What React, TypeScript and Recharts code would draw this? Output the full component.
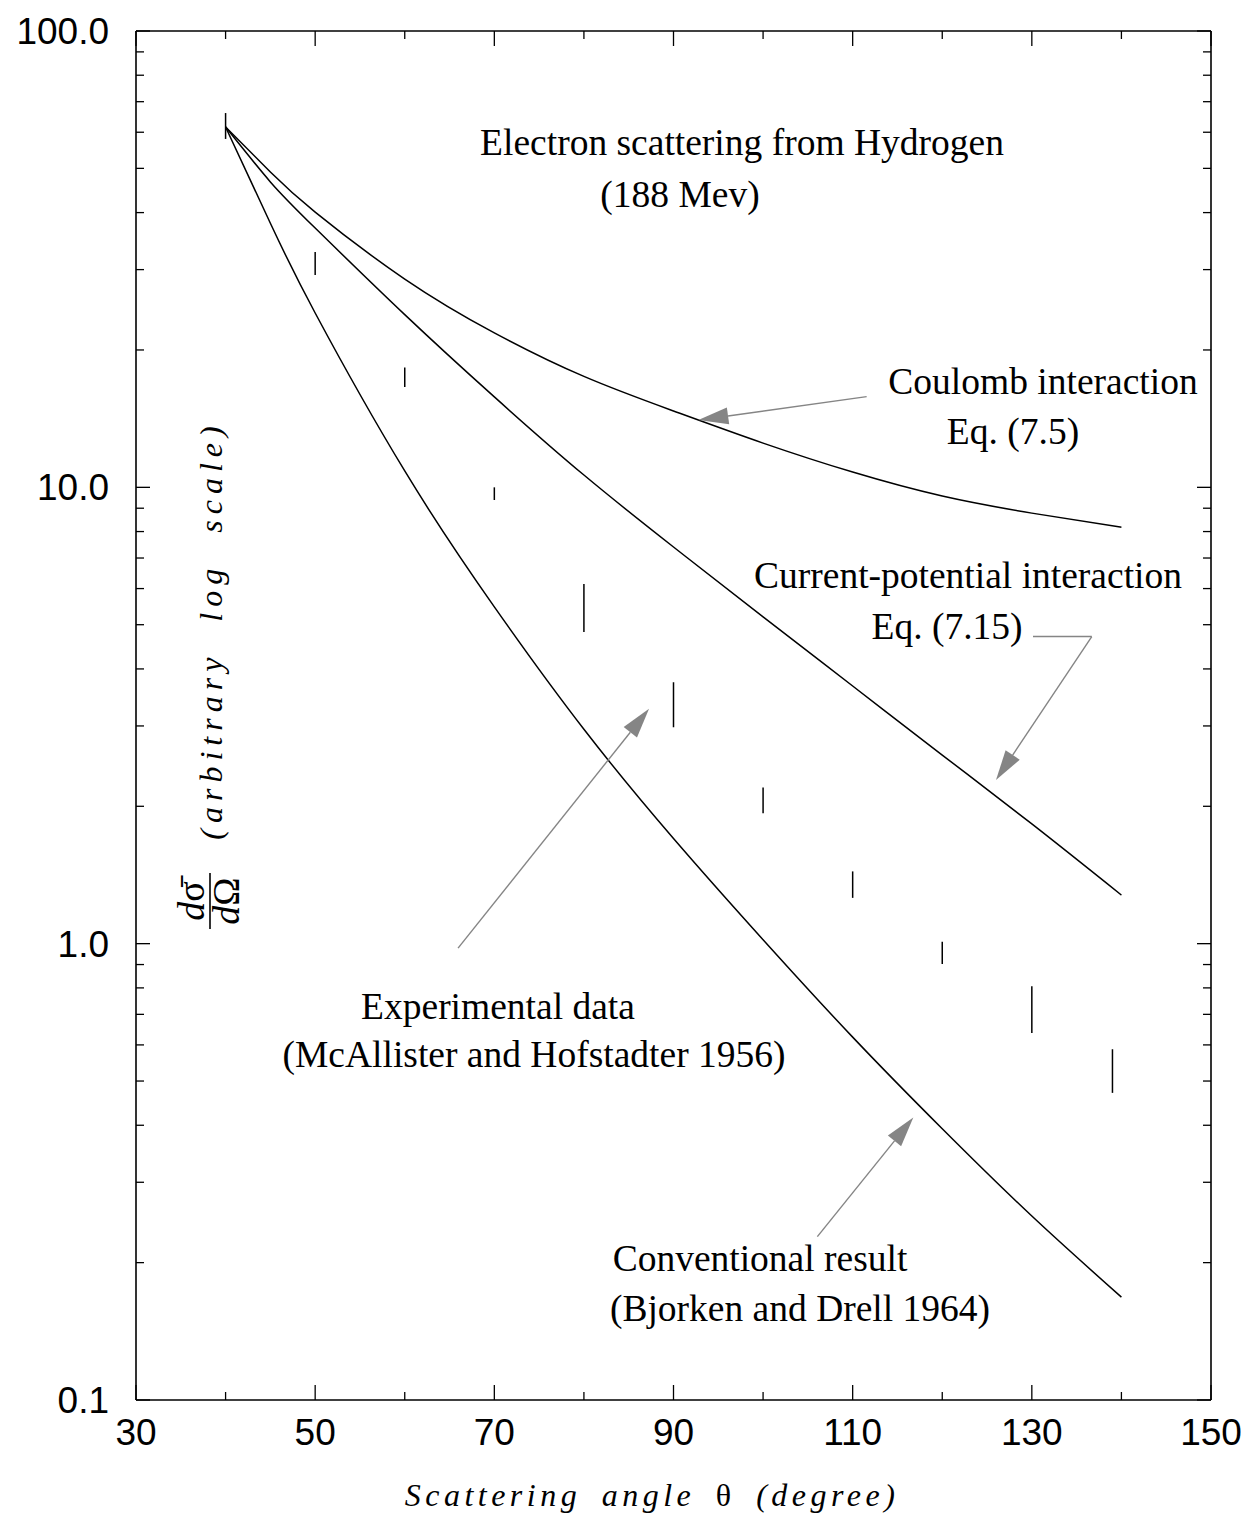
import React from "react";
import { ComposedChart, Line, Scatter, ErrorBar, XAxis, YAxis, ReferenceLine } from "recharts";

// theory curves (degrees -> arbitrary units)
const ANGLES = [40, 45, 50, 60, 70, 80, 90, 100, 110, 120, 130, 140];
const COULOMB = [61.6, 49.1, 40.1, 28.6, 21.8, 17.5, 14.7, 12.5, 10.8, 9.57, 8.78, 8.18];
const CURRENT_POT = [61.6, 46.7, 37.0, 23.9, 15.78, 10.64, 7.4, 5.2, 3.67, 2.59, 1.83, 1.278];
const CONVENTIONAL = [61.6, 37.9, 24.1, 10.86, 5.47, 2.95, 1.7, 1.02, 0.624, 0.393, 0.253, 0.168];

// experimental error bars (low / high ends)
const EXP_ANGLES = [40, 50, 60, 70, 80, 90, 100, 110, 120, 130, 139];
const EXP_LOW = [58.0, 29.2, 16.6, 9.38, 4.82, 2.98, 1.93, 1.26, 0.902, 0.637, 0.471];
const EXP_HIGH = [66.1, 32.8, 18.3, 10.0, 6.14, 3.74, 2.2, 1.44, 1.01, 0.807, 0.587];

const X_TICKS = [30, 40, 50, 60, 70, 80, 90, 100, 110, 120, 130, 140, 150];
const X_LABELS = [30, 50, 70, 90, 110, 130, 150];
const Y_TICKS = [
  0.1, 0.2, 0.3, 0.4, 0.5, 0.6, 0.7, 0.8, 0.9,
  1, 2, 3, 4, 5, 6, 7, 8, 9,
  10, 20, 30, 40, 50, 60, 70, 80, 90, 100,
];
const Y_MAJOR = [0.1, 1, 10, 100];
const Y_LABELS = ["0.1", "1.0", "10.0", "100.0"];

// annotation arrows, in data units: [from, to]
const ARROWS = [
  { from: { x: 111.56, y: 15.8 }, to: { x: 92.77, y: 14.04 }, head: true },
  { from: { x: 130.13, y: 4.71 }, to: { x: 136.69, y: 4.71 }, head: false },
  { from: { x: 136.69, y: 4.71 }, to: { x: 126.0, y: 2.284 }, head: true },
  { from: { x: 65.95, y: 0.978 }, to: { x: 87.27, y: 3.27 }, head: true },
  { from: { x: 106.06, y: 0.228 }, to: { x: 116.77, y: 0.416 }, head: true },
];

const coulombData = ANGLES.map((x, i) => ({ x, y: COULOMB[i] }));
const currentData = ANGLES.map((x, i) => ({ x, y: CURRENT_POT[i] }));
const conventionalData = ANGLES.map((x, i) => ({ x, y: CONVENTIONAL[i] }));
const expData = EXP_ANGLES.map((x, i) => {
  const c = Math.sqrt(EXP_LOW[i] * EXP_HIGH[i]);
  return { x, y: c, err: [c - EXP_LOW[i], EXP_HIGH[i] - c] };
});

const SANS = "'Liberation Sans', Arial, Helvetica, sans-serif";
const SERIF = "'Liberation Serif', 'Times New Roman', Times, serif";
const ARROW_GRAY = "#858585";

function BottomTick({ x, y, payload }: any) {
  const major = X_LABELS.includes(payload.value);
  return (
    <g>
      <line x1={x} y1={y} x2={x} y2={y - (major ? 15 : 8)} stroke="#000" strokeWidth={1.3} />
      {major && (
        <text x={x} y={y + 45} textAnchor="middle" fontFamily={SANS} fontSize={37} fill="#000">
          {payload.value}
        </text>
      )}
    </g>
  );
}

function TopTick({ x, y, payload }: any) {
  const major = X_LABELS.includes(payload.value);
  return <line x1={x} y1={y} x2={x} y2={y + (major ? 15 : 8)} stroke="#000" strokeWidth={1.3} />;
}

function LeftTick({ x, y, payload }: any) {
  const idx = Y_MAJOR.indexOf(payload.value);
  const major = idx >= 0;
  return (
    <g>
      <line x1={x} y1={y} x2={x + (major ? 14 : 8)} y2={y} stroke="#000" strokeWidth={1.3} />
      {major && (
        <text x={x - 27} y={y + 13} textAnchor="end" fontFamily={SANS} fontSize={37} fill="#000">
          {Y_LABELS[idx]}
        </text>
      )}
    </g>
  );
}

function RightTick({ x, y, payload }: any) {
  const major = Y_MAJOR.includes(payload.value);
  return <line x1={x} y1={y} x2={x - (major ? 14 : 8)} y2={y} stroke="#000" strokeWidth={1.3} />;
}

function ArrowShape(props: any) {
  const { x1, y1, x2, y2, head } = props;
  if (!head) {
    return <line x1={x1} y1={y1} x2={x2} y2={y2} stroke={ARROW_GRAY} strokeWidth={1.4} />;
  }
  const len = 30;
  const half = 8.5;
  const dx = x2 - x1;
  const dy = y2 - y1;
  const d = Math.sqrt(dx * dx + dy * dy) || 1;
  const ux = dx / d;
  const uy = dy / d;
  const bx = x2 - ux * len;
  const by = y2 - uy * len;
  const pts = `${x2},${y2} ${bx - uy * half},${by + ux * half} ${bx + uy * half},${by - ux * half}`;
  return (
    <g>
      <line x1={x1} y1={y1} x2={bx} y2={by} stroke={ARROW_GRAY} strokeWidth={1.4} />
      <polygon points={pts} fill={ARROW_GRAY} />
    </g>
  );
}

const axisLine = { stroke: "#000", strokeWidth: 1.6 };

export default function App() {
  return (
    <div style={{ position: "relative", width: 1251, height: 1527, background: "#fff" }}>
      <ComposedChart width={1251} height={1527} margin={{ top: 22, right: 47, bottom: 0, left: 0 }}>
        <XAxis
          xAxisId="bottom"
          dataKey="x"
          type="number"
          domain={[30, 150]}
          ticks={X_TICKS}
          interval={0}
          allowDataOverflow
          height={135}
          tickSize={0}
          tickMargin={0}
          tickLine={false}
          axisLine={axisLine}
          tick={BottomTick}
        />
        <XAxis
          xAxisId="top"
          orientation="top"
          dataKey="x"
          type="number"
          domain={[30, 150]}
          ticks={X_TICKS}
          interval={0}
          allowDataOverflow
          height={1}
          tickSize={0}
          tickMargin={0}
          tickLine={false}
          axisLine={axisLine}
          tick={TopTick}
        />
        <YAxis
          yAxisId="left"
          type="number"
          scale="log"
          domain={[0.1, 100]}
          ticks={Y_TICKS}
          interval={0}
          allowDataOverflow
          width={128}
          tickSize={0}
          tickMargin={0}
          tickLine={false}
          axisLine={axisLine}
          tick={LeftTick}
        />
        <YAxis
          yAxisId="right"
          orientation="right"
          type="number"
          scale="log"
          domain={[0.1, 100]}
          ticks={Y_TICKS}
          interval={0}
          allowDataOverflow
          width={1}
          tickSize={0}
          tickMargin={0}
          tickLine={false}
          axisLine={axisLine}
          tick={RightTick}
        />

        {/* invisible series tied to the top and right frame axes */}
        <Line xAxisId="top" yAxisId="right" data={coulombData} dataKey="y" stroke="none"
          dot={false} activeDot={false} legendType="none" isAnimationActive={false} />

        <Line xAxisId="bottom" yAxisId="left" data={coulombData} dataKey="y" type="natural"
          stroke="#000" strokeWidth={1.5} dot={false} isAnimationActive={false} />
        <Line xAxisId="bottom" yAxisId="left" data={currentData} dataKey="y" type="natural"
          stroke="#000" strokeWidth={1.5} dot={false} isAnimationActive={false} />
        <Line xAxisId="bottom" yAxisId="left" data={conventionalData} dataKey="y" type="natural"
          stroke="#000" strokeWidth={1.5} dot={false} isAnimationActive={false} />

        <Scatter xAxisId="bottom" yAxisId="left" data={expData} dataKey="y"
          shape={() => <g />} isAnimationActive={false}>
          <ErrorBar dataKey="err" direction="y" width={0} stroke="#000" strokeWidth={1.5} />
        </Scatter>

        {ARROWS.map((a, i) => (
          <ReferenceLine
            key={i}
            xAxisId="bottom"
            yAxisId="left"
            segment={[a.from, a.to]}
            ifOverflow="visible"
            shape={(p: any) => <ArrowShape {...p} head={a.head} />}
          />
        ))}
      </ComposedChart>

      <svg
        width={1251}
        height={1527}
        style={{ position: "absolute", left: 0, top: 0, pointerEvents: "none" }}
      >
        <g transform="translate(-8,-8)" fontFamily={SERIF} fill="#000">
          <text x={742} y={155} fontSize={37.5} textAnchor="middle">Electron scattering from Hydrogen</text>
          <text x={680} y={207} fontSize={37.5} textAnchor="middle">(188 Mev)</text>

          <text x={1043} y={394} fontSize={37.5} textAnchor="middle">Coulomb interaction</text>
          <text x={1013} y={444} fontSize={37.5} textAnchor="middle">Eq. (7.5)</text>

          <text x={968} y={588} fontSize={37.5} textAnchor="middle">Current-potential interaction</text>
          <text x={947} y={639} fontSize={37.5} textAnchor="middle">Eq. (7.15)</text>

          <text x={498} y={1019} fontSize={37.5} textAnchor="middle">Experimental data</text>
          <text x={534} y={1067} fontSize={37.5} textAnchor="middle">(McAllister and Hofstadter 1956)</text>

          <text x={760} y={1271} fontSize={37.5} textAnchor="middle">Conventional result</text>
          <text x={800} y={1321} fontSize={37.5} textAnchor="middle">(Bjorken and Drell 1964)</text>

          <text x={652} y={1506} fontSize={32} fontStyle="italic" textAnchor="middle"
            letterSpacing={4.5} wordSpacing={8}>
            Scattering angle <tspan fontStyle="normal">θ</tspan> (degree)
          </text>

          <text transform="translate(222,630) rotate(-90)" fontSize={32} fontStyle="italic"
            textAnchor="middle" letterSpacing={6} wordSpacing={16}>
            (arbitrary log scale)
          </text>

          <g transform="translate(210,901) rotate(-90)">
            <text x={0} y={-6} fontSize={38} textAnchor="middle">
              <tspan fontStyle="italic">d</tspan>σ̄
            </text>
            <line x1={-28} y1={0} x2={28} y2={0} stroke="#000" strokeWidth={1.6} />
            <text x={0} y={29} fontSize={38} textAnchor="middle">
              <tspan fontStyle="italic">d</tspan>Ω
            </text>
          </g>
        </g>
      </svg>
    </div>
  );
}
